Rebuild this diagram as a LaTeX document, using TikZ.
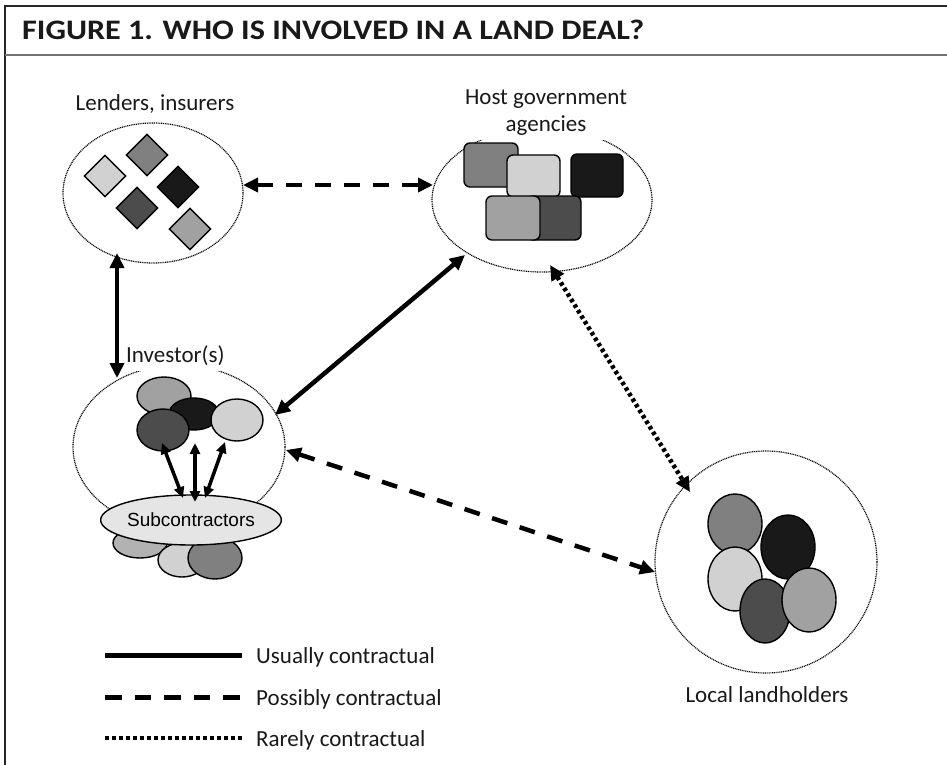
\documentclass[tikz,border=0pt]{standalone}
\usepackage{fontspec}
\usepackage{graphicx}
\setmainfont{Carlito}
\newfontfamily\arialfont{Liberation Sans}
\usetikzlibrary{arrows.meta,shapes.geometric}
\definecolor{gA}{gray}{0.82}
\definecolor{gB}{gray}{0.50}
\definecolor{gC}{gray}{0.10}
\definecolor{gD}{gray}{0.30}
\definecolor{gE}{gray}{0.63}
\definecolor{gF}{gray}{0.90}
\definecolor{gG}{gray}{0.70}
\begin{document}
\begin{tikzpicture}[x=1pt,y=-1pt,
  conn/.style={line width=4.5pt,{Triangle[length=15pt,width=14pt]}-{Triangle[length=15pt,width=14pt]}},
  solidc/.style={conn},
  dashc/.style={conn,dash pattern=on 16pt off 13pt},
  dotc/.style={conn,dash pattern=on 3.5pt off 3pt},
  subc/.style={line width=3.5pt,{Triangle[length=11pt,width=10pt]}-{Triangle[length=11pt,width=10pt]}},
  group/.style={draw=black,line width=1.2pt,dash pattern=on 1pt off 0.8pt,ellipse,inner sep=0pt},
  item/.style={draw=black,line width=1.4pt,inner sep=0pt},
  dia/.style={item,diamond,minimum width=42pt,minimum height=42pt,aspect=1},
  rbox/.style={item,rectangle,rounded corners=6pt},
  oval/.style={item,ellipse},
  lbl/.style={font=\fontsize{23}{27}\selectfont,text=black!90,inner sep=1pt,align=center},
  leg/.style={font=\fontsize{23}{25}\selectfont,text=black!90,anchor=base west,inner sep=0pt},
]
\fill[white] (0,0) rectangle (947,765);
\useasboundingbox (0,0) rectangle (947,765);

% frame and title
\draw[line width=2pt,black!85] (5,765) -- (5,6) -- (947,6);
\draw[line width=2.5pt,black!55] (5,55) -- (947,55);
\node[anchor=base west,inner sep=0pt,text=black!90] (title) at (22,40)
  {\resizebox{622pt}{19.5pt}{\bfseries FIGURE 1. WHO IS INVOLVED IN A LAND DEAL?}};

% group outlines
\node[group,minimum width=180pt,minimum height=140pt] (lend) at (153,193) {};
\node[group,minimum width=220pt,minimum height=144pt] (host) at (542,200) {};
\node[group,minimum width=212pt,minimum height=164pt] (inv) at (179,447) {};
\node[group,minimum width=222pt,minimum height=222pt] (land) at (766,562) {};

% labels
\node[lbl] (lendL) at (155,104) {Lenders, insurers};
\node[lbl,fill=white,inner ysep=4pt] (hostL) at (546,113) {Host government\\agencies};
\node[lbl,fill=white,anchor=base west,inner xsep=5pt,inner ysep=6pt] (invL) at (121,362) {Investor(s)};
\node[lbl] (landL) at (767,695) {Local landholders};

% lenders diamonds
\node[dia,fill=gA] (d1) at (105,176) {};
\node[dia,fill=gB] (d2) at (147,155) {};
\node[dia,fill=gC] (d3) at (178,187) {};
\node[dia,fill=gD] (d4) at (137,208) {};
\node[dia,fill=gE] (d5) at (190,229) {};

% host boxes
\node[rbox,fill=gB,minimum width=54pt,minimum height=44pt] (r1) at (491,165) {};
\node[rbox,fill=gA,minimum width=53pt,minimum height=42pt] (r2) at (533.5,176) {};
\node[rbox,fill=gC,minimum width=52pt,minimum height=43pt] (r3) at (597,175.5) {};
\node[rbox,fill=gD,minimum width=54pt,minimum height=44pt] (r4) at (554,218) {};
\node[rbox,fill=gE,minimum width=54pt,minimum height=44pt] (r5) at (513,218) {};

% investor ovals
\node[oval,fill=gE,minimum width=54pt,minimum height=38pt] (i1) at (164,396) {};
\node[oval,fill=gC,minimum width=50pt,minimum height=32pt] (i2) at (194,414) {};
\node[oval,fill=gD,minimum width=52pt,minimum height=42pt] (i3) at (163,430) {};
\node[oval,fill=gA,minimum width=52pt,minimum height=42pt] (i4) at (237,420) {};

% subcontractors
\node[oval,fill=gG,minimum width=54pt,minimum height=30pt] (s1) at (140,543) {};
\node[oval,fill=gA,minimum width=48pt,minimum height=34pt] (s2) at (182,560) {};
\node[oval,fill=gB,minimum width=54pt,minimum height=42pt] (s3) at (215,558) {};
\node[oval,fill=gF,minimum width=132pt,minimum height=50pt,
      font=\arialfont\fontsize{19}{21}\selectfont] (sub) at (191,520) {Subcontractors};

% landholders ovals
\node[oval,fill=gB,minimum width=54pt,minimum height=60pt] (l1) at (735,524) {};
\node[oval,fill=gC,minimum width=54pt,minimum height=64pt] (l2) at (788,547) {};
\node[oval,fill=gA,minimum width=54pt,minimum height=64pt] (l3) at (735,579) {};
\node[oval,fill=gD,minimum width=50pt,minimum height=64pt] (l4) at (765,611) {};
\node[oval,fill=gE,minimum width=54pt,minimum height=64pt] (l5) at (809,600) {};

% connector end points
\coordinate (lendE) at (243,185);
\coordinate (hostW) at (433,185);
\coordinate (lendS) at (117,253);
\coordinate (invN) at (117,378);
\coordinate (hostSW) at (465,255);
\coordinate (invNE) at (275,415);
\coordinate (invE) at (286,450);
\coordinate (landW) at (655,572);
\coordinate (hostS) at (550,265);
\coordinate (landNW) at (690,492);
\coordinate (sa1) at (183,498);
\coordinate (sb1) at (162,443);
\coordinate (sa2) at (195,502);
\coordinate (sb2) at (195,443);
\coordinate (sa3) at (205,498);
\coordinate (sb3) at (225,442);

% connectors
\draw[dashc] (lendE) -- (hostW);
\draw[solidc] (lendS) -- (invN);
\draw[solidc] (hostSW) -- (invNE);
\draw[dashc] (invE) -- (landW);
\draw[dotc] (hostS) -- (landNW);
\draw[subc] (sa1) -- (sb1);
\draw[subc] (sa2) -- (sb2);
\draw[subc] (sa3) -- (sb3);

% legend
\coordinate (k1a) at (105,655); \coordinate (k1b) at (242,655);
\coordinate (k2a) at (105,697); \coordinate (k2b) at (242,697);
\coordinate (k3a) at (105,738); \coordinate (k3b) at (242,738);
\draw[line width=5pt] (k1a) -- (k1b);
\draw[line width=5pt,dash pattern=on 16.5pt off 13pt] (k2a) -- (k2b);
\draw[line width=4pt,dash pattern=on 4pt off 3pt] (k3a) -- (k3b);
\node[leg] (t1) at (256,663) {Usually contractual};
\node[leg] (t2) at (256,705) {Possibly contractual};
\node[leg] (t3) at (256,746) {Rarely contractual};
\end{tikzpicture}
\end{document}
